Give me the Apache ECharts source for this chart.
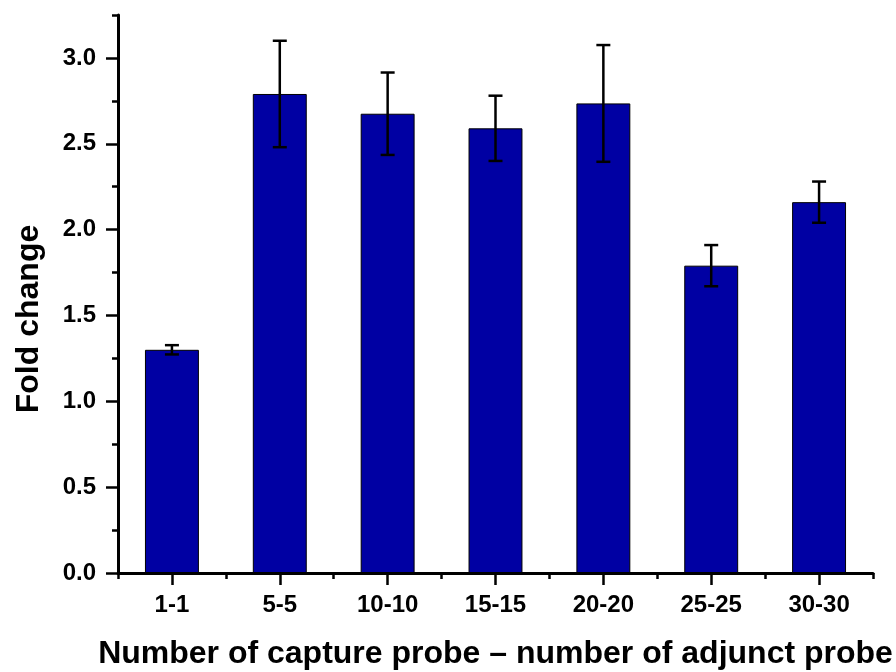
<!DOCTYPE html>
<html>
<head>
<meta charset="utf-8">
<script src="https://cdn.jsdelivr.net/npm/echarts@6/dist/echarts.min.js"></script>
<style>html,body{margin:0;padding:0;background:#fff;}#c{width:896px;height:672px;}</style>
</head>
<body>
<div id="c"></div>
<script>
const categories = ['1-1', '5-5', '10-10', '15-15', '20-20', '25-25', '30-30'];
const foldChange = [1.30, 2.79, 2.675, 2.59, 2.735, 1.79, 2.16];
const errors = [0.027, 0.31, 0.24, 0.19, 0.34, 0.12, 0.12];
const majorTicks = [0, 0.5, 1.0, 1.5, 2.0, 2.5, 3.0];
const minorTicks = [0.25, 0.75, 1.25, 1.75, 2.25, 2.75, 3.25];
const yTitle = 'Fold change';
const xTitle = 'Number of capture probe \u2013 number of adjunct probe';

const FONT = 'Liberation Sans, Arial, sans-serif';
const chart = echarts.init(document.getElementById('c'), null, {renderer: 'canvas'});

const errData = categories.map((c, i) => [i, foldChange[i], errors[i]]);

chart.setOption({
  animation: false,
  backgroundColor: '#fff',
  grid: {left: 118, right: 23, top: 15, bottom: 99, containLabel: false, outerBoundsMode: 'none'},
  graphic: [{
    type: 'text',
    x: 29, y: 319,
    rotation: Math.PI / 2,
    style: {text: yTitle, fill: '#000', font: 'bold 32px ' + FONT, align: 'center', verticalAlign: 'middle'}
  }],
  xAxis: [{
    type: 'category',
    data: categories,
    position: 'bottom',
    axisLine: {show: true, lineStyle: {color: '#000', width: 3}},
    axisTick: {show: true, alignWithLabel: true, length: 12, lineStyle: {color: '#000', width: 2.5}},
    axisLabel: {color: '#000', fontFamily: FONT, fontWeight: 'bold', fontSize: 24, margin: 20},
    splitLine: {show: false},
    name: xTitle,
    nameLocation: 'middle',
    nameGap: 65,
    nameTextStyle: {color: '#000', fontFamily: FONT, fontWeight: 'bold', fontSize: 32}
  }, {
    type: 'category',
    data: categories,
    position: 'bottom',
    axisLine: {show: false},
    axisTick: {show: true, length: 6, lineStyle: {color: '#000', width: 2.5}},
    axisLabel: {show: false},
    splitLine: {show: false}
  }],
  yAxis: [{
    type: 'value',
    min: 0, max: 3.25,
    position: 'left',
    axisLine: {show: true, lineStyle: {color: '#000', width: 3}},
    axisTick: {show: true, length: 12, customValues: majorTicks, lineStyle: {color: '#000', width: 2.5}},
    axisLabel: {color: '#000', fontFamily: FONT, fontWeight: 'bold', fontSize: 24, margin: 22,
      customValues: majorTicks, formatter: v => v.toFixed(1)},
    splitLine: {show: false}
  }, {
    type: 'value',
    min: 0, max: 3.25,
    position: 'left',
    axisLine: {show: false},
    axisTick: {show: true, length: 6, customValues: minorTicks, lineStyle: {color: '#000', width: 2.5}},
    axisLabel: {show: false},
    splitLine: {show: false}
  }],
  series: [{
    type: 'bar',
    data: foldChange,
    xAxisIndex: 0, yAxisIndex: 0,
    barWidth: '50%',
    itemStyle: {color: '#0000A3', borderColor: '#000', borderWidth: 1}
  }, {
    type: 'custom',
    xAxisIndex: 0, yAxisIndex: 0,
    data: errData,
    z: 10,
    renderItem: function (params, api) {
      const x = api.value(0), v = api.value(1), e = api.value(2);
      const top = api.coord([x, v + e]);
      const bot = api.coord([x, v - e]);
      const hw = 7;
      const style = {stroke: '#000', lineWidth: 2.5};
      return {
        type: 'group',
        children: [
          {type: 'line', shape: {x1: top[0], y1: top[1], x2: bot[0], y2: bot[1]}, style: style},
          {type: 'line', shape: {x1: top[0] - hw, y1: top[1], x2: top[0] + hw, y2: top[1]}, style: style},
          {type: 'line', shape: {x1: bot[0] - hw, y1: bot[1], x2: bot[0] + hw, y2: bot[1]}, style: style}
        ]
      };
    }
  }]
});
</script>
</body>
</html>
